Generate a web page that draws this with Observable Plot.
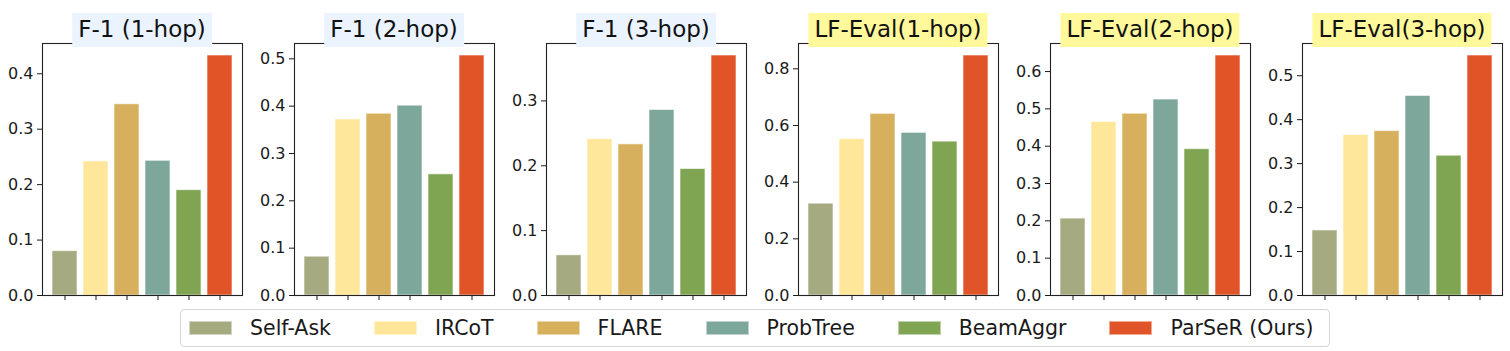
<!DOCTYPE html>
<html><head><meta charset="utf-8">
<script src="https://cdn.jsdelivr.net/npm/d3@7"></script>
<script src="https://cdn.jsdelivr.net/npm/@observablehq/plot@0.6"></script>
<style>
body{margin:0;background:#fff;font-family:"DejaVu Sans",sans-serif;}
#wrap{position:relative;width:1510px;height:351px;overflow:hidden;background:#fff;}
.panel{position:absolute;top:0;}
.panel text{font-size:16px !important;font-family:"DejaVu Sans",sans-serif !important;}
.title{position:absolute;top:13px;height:34px;line-height:33px;font-size:23px;padding:0 6px;transform:translateX(-50%);white-space:nowrap;color:#111;font-family:"DejaVu Sans",sans-serif;}
#legend{position:absolute;left:180px;top:309px;width:1140px;padding-left:8px;height:36px;border:1px solid #d6d6d6;border-radius:4px;display:flex;align-items:center;justify-content:flex-start;font-size:20.5px;color:#1a1a1a;box-sizing:content-box;white-space:nowrap;}
.item{display:flex;align-items:center;margin-right:43px;flex-shrink:0;white-space:nowrap;}
.item:last-child{margin-right:0;}
.sw{width:43px;height:14px;margin-right:18px;box-sizing:border-box;border:1px solid rgba(255,255,255,0.5);flex-shrink:0;}
</style>
</head><body>
<div id="wrap"></div>
<script>
const methods = ["Self-Ask", "IRCoT", "FLARE", "ProbTree", "BeamAggr", "ParSeR (Ours)"];
const colors = ["#a5aa80", "#fee69a", "#d6b05c", "#7da79b", "#7fa452", "#e05428"];
const titles = ["F-1 (1-hop)", "F-1 (2-hop)", "F-1 (3-hop)", "LF-Eval(1-hop)", "LF-Eval(2-hop)", "LF-Eval(3-hop)"];
const titleBg = ["#eaf3fe", "#eaf3fe", "#eaf3fe", "#fff99b", "#fff99b", "#fff99b"];

const f1_1hop = [0.080, 0.242, 0.345, 0.243, 0.190, 0.433];
const f1_2hop = [0.082, 0.372, 0.384, 0.401, 0.256, 0.507];
const f1_3hop = [0.062, 0.241, 0.233, 0.286, 0.195, 0.370];
const lf_1hop = [0.324, 0.552, 0.641, 0.574, 0.543, 0.847];
const lf_2hop = [0.206, 0.465, 0.487, 0.525, 0.392, 0.643];
const lf_3hop = [0.148, 0.365, 0.374, 0.454, 0.318, 0.546];

const yTicks1 = [0, 0.1, 0.2, 0.3, 0.4];
const yTicks2 = [0, 0.1, 0.2, 0.3, 0.4, 0.5];
const yTicks3 = [0, 0.1, 0.2, 0.3];
const yTicks4 = [0, 0.2, 0.4, 0.6, 0.8];
const yTicks5 = [0, 0.1, 0.2, 0.3, 0.4, 0.5, 0.6];
const yTicks6 = [0, 0.1, 0.2, 0.3, 0.4, 0.5];

const series = [f1_1hop, f1_2hop, f1_3hop, lf_1hop, lf_2hop, lf_3hop];
const ticks = [yTicks1, yTicks2, yTicks3, yTicks4, yTicks5, yTicks6];

const wrap = document.getElementById("wrap");
const ML = 42, FW = 200, STEP = 252;

series.forEach((vals, i) => {
  const data = methods.map((m, j) => ({method: m, value: vals[j]}));
  const chart = Plot.plot({
    width: ML + FW + 8,
    height: 310,
    marginLeft: ML,
    marginRight: 8,
    marginTop: 43,
    marginBottom: 15,
    style: {fontFamily: "DejaVu Sans, sans-serif", fontSize: "16px", background: "transparent", color: "#1a1a1a", overflow: "visible"},
    x: {domain: methods, paddingInner: 0.2, paddingOuter: 0.295, align: 0.5},
    y: {domain: [0, d3.max(vals) * 1.05]},
    color: {domain: methods, range: colors},
    marks: [
      Plot.barY(data, {x: "method", y: "value", fill: "method", stroke: "white", strokeOpacity: 0.6, strokeWidth: 1}),
      Plot.axisY({ticks: ticks[i], tickFormat: d3.format(".1f"), tickSize: 5, tickPadding: 4, label: null, fontSize: 16}),
      Plot.axisX({tickSize: 5, tickFormat: () => "", label: null}),
      Plot.frame({stroke: "#222", strokeWidth: 1.1})
    ]
  });
  chart.classList.add("panel");
  chart.style.left = (i * STEP) + "px";
  wrap.appendChild(chart);
});

titles.forEach((t, i) => {
  const d = document.createElement("div");
  d.className = "title";
  d.textContent = t;
  d.style.left = (ML + i * STEP + FW / 2) + "px";
  d.style.background = titleBg[i];
  wrap.appendChild(d);
});

const legend = document.createElement("div");
legend.id = "legend";
methods.forEach((m, j) => {
  const it = document.createElement("div");
  it.className = "item";
  const sw = document.createElement("div");
  sw.className = "sw";
  sw.style.background = colors[j];
  const lb = document.createElement("span");
  lb.textContent = m;
  it.appendChild(sw); it.appendChild(lb);
  legend.appendChild(it);
});
wrap.appendChild(legend);
</script>
</body></html>
